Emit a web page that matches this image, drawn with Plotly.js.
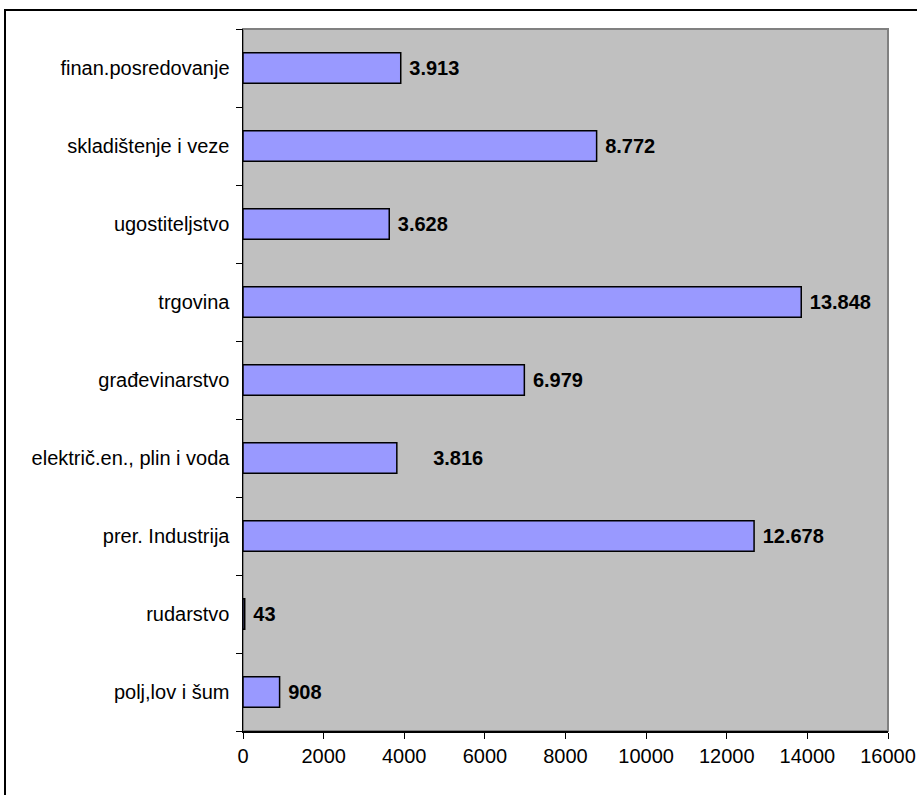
<!DOCTYPE html>
<html>
<head>
<meta charset="utf-8">
<script src="https://cdn.plot.ly/plotly-3.0.1.min.js"></script>
<style>
  html, body { margin: 0; padding: 0; background: #fff; }
  #wrap { position: relative; width: 917px; height: 795px; overflow: hidden; }
  #chart { width: 917px; height: 795px; }
  #frame { position: absolute; left: 4px; top: 9px; width: 940px; height: 820px;
           border-left: 2px solid #000; border-top: 2px solid #000; pointer-events: none; }
</style>
</head>
<body>
<div id="wrap">
  <div id="chart"></div>
  <div id="frame"></div>
</div>
<script>
// Categories bottom to top
const categories = [
  "polj,lov i šum",
  "rudarstvo",
  "prer. Industrija",
  "električ.en., plin i voda",
  "građevinarstvo",
  "trgovina",
  "ugostiteljstvo",
  "skladištenje i veze",
  "finan.posredovanje"
];
const values = [908, 43, 12678, 3816, 6979, 13848, 3628, 8772, 3913];
const xTickValues = [0, 2000, 4000, 6000, 8000, 10000, 12000, 14000, 16000];

function fmt(v) {
  return String(v).replace(/\B(?=(\d{3})+(?!\d))/g, ".");
}
const labels = values.map(function (v, i) {
  const pad = categories[i] === "električ.en., plin i voda" ? "\u00a0\u00a0\u00a0\u00a0\u00a0\u00a0" : "\u00a0";
  return pad + fmt(v);
});

const trace = {
  type: "bar",
  orientation: "h",
  y: categories,
  x: values,
  text: labels,
  textposition: "outside",
  cliponaxis: false,
  textfont: { family: "Liberation Sans, Arial, sans-serif", size: 20, color: "#000", weight: "bold" },
  marker: { color: "#9999FF", line: { color: "#000", width: 1.5 } },
  width: 0.39,
  hoverinfo: "none"
};

const layout = {
  width: 917,
  height: 795,
  margin: { l: 243, r: 29, t: 29, b: 64 },
  paper_bgcolor: "rgba(0,0,0,0)",
  plot_bgcolor: "#C0C0C0",
  showlegend: false,
  font: { family: "Liberation Sans, Arial, sans-serif", size: 20, color: "#000" },
  xaxis: {
    range: [0, 16000],
    tickvals: xTickValues,
    ticktext: xTickValues.map(String),
    ticks: "outside",
    ticklen: 6,
    tickwidth: 1,
    tickcolor: "#000",
    showgrid: false,
    zeroline: false,
    showline: true,
    linecolor: "#000",
    linewidth: 1.5,
    fixedrange: true
  },
  yaxis: {
    type: "category",
    categoryorder: "array",
    categoryarray: categories,
    ticks: "outside",
    tickson: "boundaries",
    ticklen: 6,
    tickwidth: 1,
    tickcolor: "#000",
    ticklabelstandoff: 8,
    showgrid: false,
    zeroline: false,
    showline: true,
    linecolor: "#000",
    linewidth: 1.5,
    fixedrange: true
  },
  shapes: [{
    type: "rect", xref: "paper", yref: "paper", x0: 0, x1: 1, y0: 0, y1: 1,
    line: { color: "#808080", width: 2 }, fillcolor: "rgba(0,0,0,0)", layer: "below"
  }]
};

Plotly.newPlot("chart", [trace], layout, { displayModeBar: false, staticPlot: true });
</script>
</body>
</html>
